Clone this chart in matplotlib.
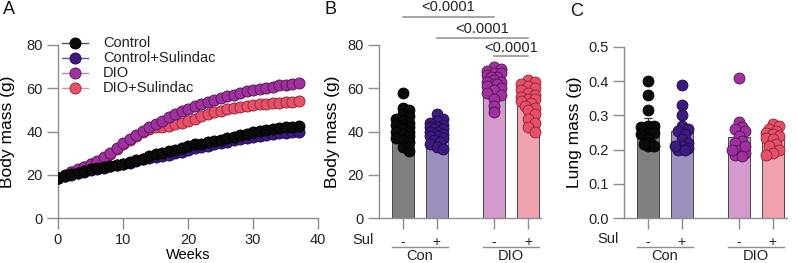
import numpy as np
import matplotlib
matplotlib.use("Agg")
import matplotlib.pyplot as plt
from matplotlib.lines import Line2D
from matplotlib.transforms import blended_transform_factory

plt.rcParams['font.family'] = ['Liberation Sans', 'DejaVu Sans']

# ---------------- Panel A data ----------------
weeks = list(range(38))
control = [18.5, 19.5, 20.3, 21.0, 21.8, 22.5, 23.0, 23.5, 24.0, 24.6, 25.2, 25.8, 26.6,
           27.5, 28.5, 29.5, 30.0, 30.8, 31.5, 32.5, 33.5, 34.0, 34.3, 35.0, 35.5, 36.0,
           36.8, 37.5, 38.2, 39.0, 39.8, 40.3, 40.8, 41.2, 41.6, 42.0, 42.3, 42.5]
control_sul = [18.3, 19.3, 20.0, 20.8, 21.5, 22.2, 22.8, 23.3, 23.9, 24.4, 25.0, 25.6, 26.3,
               27.1, 27.9, 28.4, 28.8, 29.2, 29.9, 30.7, 31.5, 32.2, 32.9, 33.5, 34.1, 34.7,
               35.3, 35.9, 36.5, 37.1, 37.6, 38.0, 38.4, 38.8, 39.1, 39.4, 39.7, 39.9]
dio = [18.5, 20.0, 21.3, 22.5, 23.8, 25.0, 26.3, 28.0, 30.0, 32.2, 34.5, 36.5, 38.5,
       40.3, 42.0, 43.5, 45.0, 46.5, 48.0, 49.3, 50.5, 51.7, 52.8, 53.8, 54.7, 55.5,
       56.3, 57.1, 57.8, 58.5, 59.1, 59.7, 60.3, 60.8, 61.3, 61.7, 62.1, 62.4]
dio_sul = [18.4, 19.9, 21.2, 22.4, 23.6, 24.8, 26.1, 27.7, 29.7, 31.8, 34.0, 36.0, 38.0,
           39.8, 41.2, 42.0, 42.3, 42.6, 43.3, 44.1, 45.0, 46.0, 47.0, 48.0, 48.8, 49.5,
           50.2, 50.8, 51.3, 51.8, 52.2, 52.6, 52.9, 53.2, 53.4, 53.6, 53.8, 54.0]
series_labels = ["Control", "Control+Sulindac", "DIO", "DIO+Sulindac"]

# ---------------- Panel B data ----------------
body_con_minus = [58, 51, 50, 48, 47, 46, 45, 44, 43, 43, 42, 42, 41, 40, 40, 39, 38, 37, 36, 35, 33, 31]
body_con_plus = [48, 46, 45, 44, 43, 42, 42, 41, 41, 40, 40, 39, 39, 38, 38, 37, 36, 35, 34, 33, 32]
body_dio_minus = [70, 69, 68, 67, 67, 66, 65, 65, 64, 63, 63, 62, 62, 61, 60, 59, 58, 57, 55, 52, 49]
body_dio_plus = [64, 63, 62, 61, 60, 59, 58, 57, 56, 55, 55, 54, 53, 52, 51, 50, 48, 46, 44, 42, 40]
body_bar_means = [41, 39.5, 60, 52]
pvals_b = ["<0.0001", "<0.0001", "<0.0001"]

# ---------------- Panel C data ----------------
lung_con_minus = [0.40, 0.36, 0.315, 0.27, 0.27, 0.265, 0.25, 0.25, 0.245, 0.23, 0.215, 0.21, 0.21, 0.215]
lung_con_plus = [0.39, 0.33, 0.30, 0.27, 0.26, 0.255, 0.245, 0.23, 0.22, 0.21, 0.205, 0.20, 0.20, 0.21]
lung_dio_minus = [0.41, 0.28, 0.265, 0.26, 0.255, 0.24, 0.225, 0.22, 0.20, 0.19, 0.185, 0.18, 0.20, 0.21]
lung_dio_plus = [0.275, 0.27, 0.26, 0.255, 0.25, 0.245, 0.24, 0.235, 0.23, 0.215, 0.21, 0.20, 0.19, 0.185]
lung_bar_means = [0.277, 0.255, 0.237, 0.235]

sul_labels = ["-", "+", "-", "+"]
group_labels = ["Con", "DIO"]

# ---------------- styles ----------------
pt_colors = ["#0a0a0a", "#3d1a80", "#a0309f", "#e8506a"]
pt_edges = ["#000000", "#1c0a45", "#4f144f", "#8a2535"]
line_colors = ["#555555", "#6b52b0", "#c77cc4", "#f08a9c"]
bar_colors = ["#7f7f7f", "#9d90bf", "#d49acd", "#f0a2ae"]
axis_grey = "#8c8c8c"
txt = "#222222"
bar_pos = [0, 1, 2.68, 3.68]

fig = plt.figure(figsize=(7.97, 2.63), dpi=100)

def style_axes(ax):
    for s in ["top", "right"]:
        ax.spines[s].set_visible(False)
    for s in ["left", "bottom"]:
        ax.spines[s].set_color(axis_grey)
        ax.spines[s].set_linewidth(1.0)
    ax.tick_params(axis="both", length=8, width=1.0, color=axis_grey, labelsize=10.5,
                   labelcolor=txt, pad=3)

# ---------------- Panel A ----------------
axA = fig.add_axes([58/797, 45/263, 260/797, 173/263])
style_axes(axA)
order = [3, 2, 1, 0]
data_A = [control, control_sul, dio, dio_sul]
MS = 8.0
for z, i in enumerate(order):
    axA.plot(weeks, data_A[i], color=line_colors[i], lw=1.0, marker="o", ms=MS,
             mfc=pt_colors[i], mec=pt_edges[i], mew=0.6, zorder=3 + z)
axA.set_xlim(0, 40)
axA.set_ylim(0, 80)
axA.set_xticks([0, 10, 20, 30, 40])
axA.set_yticks([0, 20, 40, 60, 80])
axA.set_xlabel("Weeks", fontsize=10.5)
axA.xaxis.set_label_coords(0.5, -0.172)
axA.set_ylabel("Body mass (g)", fontsize=12.5)
axA.yaxis.set_label_coords(-0.165, 0.5)

# legend (drawn in axes fraction coordinates)
leg_rows = [1.0116, 0.925, 0.840, 0.751]
for i, yrow in enumerate(leg_rows):
    axA.add_line(Line2D([0.0154, 0.1154], [yrow, yrow], transform=axA.transAxes,
                        color=line_colors[i], lw=1.0, clip_on=False, zorder=10))
    axA.add_line(Line2D([0.0654], [yrow], transform=axA.transAxes, marker="o", ms=MS,
                        mfc=pt_colors[i], mec=pt_edges[i], mew=0.6, clip_on=False,
                        zorder=11))
    axA.text(0.1731, yrow, series_labels[i], transform=axA.transAxes, ha="left",
             va="center", fontsize=10.5, color=txt)

# ---------------- swarm helper ----------------
def swarm(vals, center, ppu_x, ppu_y, d, half_px):
    vals = np.asarray(vals, float)
    idx = np.argsort(-vals)
    placed = []
    xs = np.zeros(len(vals))
    step = d * 0.3
    cands = [0.0]
    k = 1
    while k * step <= half_px + 1e-9:
        cands += [k * step, -k * step]
        k += 1
    for i in idx:
        y = vals[i] * ppu_y
        best, best_score, best_alt = None, -1, 0.0
        for off in cands:
            if not placed:
                best = off
                break
            md = min(np.hypot(off - px, y - py) for px, py in placed)
            if md >= 0.55 * d:
                best = off
                break
            if md > best_score:
                best_score, best_alt = md, off
        if best is None:
            best = best_alt
        placed.append((best, y))
        xs[i] = center + best / ppu_x
    return xs

def bar_panel(ax, groups, means, ylim, yticks, fmt, ppu_y):
    style_axes(ax)
    for j, (vals, m) in enumerate(zip(groups, means)):
        ax.bar(bar_pos[j], m, width=0.65, color=bar_colors[j], edgecolor="#333333",
               linewidth=0.6, zorder=2)
        sem = np.std(vals, ddof=1) / np.sqrt(len(vals))
        ax.errorbar(bar_pos[j], m, yerr=sem, color="#333333", capsize=3, lw=0.9,
                    capthick=0.9, zorder=3)
        xs = swarm(vals, bar_pos[j], 34.0, ppu_y, 11.0, 6.6)
        ax.scatter(xs, vals, s=62, color=pt_colors[j], edgecolor=pt_edges[j],
                   linewidth=0.6, zorder=4, clip_on=False)
    ax.set_ylim(*ylim)
    ax.set_yticks(yticks)
    ax.set_yticklabels([fmt.format(v) for v in yticks])
    ax.set_xticks(bar_pos)
    ax.set_xticklabels(sul_labels, fontsize=10)
    ax.tick_params(axis="x", pad=4)
    tr = ax.transAxes
    trd = blended_transform_factory(ax.transData, ax.transAxes)
    ax.text(-0.03, -0.125, "Sul", transform=tr, ha="right", va="center", fontsize=10.5,
            color=txt)
    for g, (a, b) in enumerate([(0, 1), (2, 3)]):
        x0, x1 = bar_pos[a] - 0.33, bar_pos[b] + 0.33
        ax.plot([x0, x1], [-0.168, -0.168], transform=trd, color=axis_grey, lw=1.0,
                clip_on=False)
        ax.text((bar_pos[a] + bar_pos[b]) / 2, -0.222, group_labels[g], transform=trd,
                ha="center", va="center", fontsize=10.5, color=txt)

# ---------------- Panel B ----------------
axB = fig.add_axes([379/797, 45/263, 162/797, 173/263])
bar_panel(axB, [body_con_minus, body_con_plus, body_dio_minus, body_dio_plus],
          body_bar_means, (0, 80), [0, 20, 40, 60, 80], "{:g}", 173/80)
axB.set_xlim(-0.7, 4.06)
axB.set_ylabel("Body mass (g)", fontsize=12.5)
axB.yaxis.set_label_coords(-0.24, 0.5)
sig = [(0, 2, 93.0, 97.8), (1, 3, 83.2, 87.2), (2, 3, 74.8, 78.8)]
for (a, b, yl, yt), p in zip(sig, pvals_b):
    axB.plot([bar_pos[a], bar_pos[b]], [yl, yl], color=axis_grey, lw=1.1, clip_on=False)
    axB.text((bar_pos[a] + bar_pos[b]) / 2, yt, p, ha="center", va="center",
             fontsize=10.5, color=txt, clip_on=False)

# ---------------- Panel C ----------------
axC = fig.add_axes([624/797, 45/263, 163/797, 171/263])
bar_panel(axC, [lung_con_minus, lung_con_plus, lung_dio_minus, lung_dio_plus],
          lung_bar_means, (0, 0.5), [0, 0.1, 0.2, 0.3, 0.4, 0.5], "{:.1f}", 171/0.5)
axC.set_xlim(-0.7, 4.1)
axC.set_ylabel("Lung mass (g)", fontsize=12.5)
axC.yaxis.set_label_coords(-0.258, 0.5)

# panel letters
fig.text(3/797, 1 - 10/263, "A", fontsize=13, va="center", ha="left", color="#111111")
fig.text(325/797, 1 - 9/263, "B", fontsize=13, va="center", ha="left", color="#111111")
fig.text(570/797, 1 - 11/263, "C", fontsize=13, va="center", ha="left", color="#111111")

fig.savefig("out.png", dpi=100)
